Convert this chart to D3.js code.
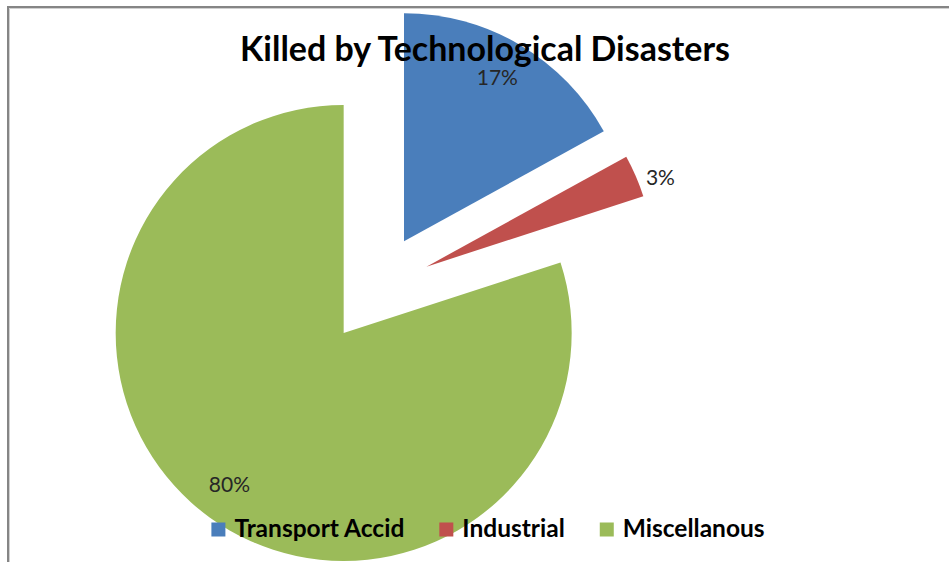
<!DOCTYPE html>
<html>
<head>
<meta charset="utf-8">
<script src="https://cdn.jsdelivr.net/npm/d3@7/dist/d3.min.js"></script>
<style>
  html, body { margin: 0; padding: 0; background: #ffffff; }
  svg { display: block; }
  text { font-family: "Lato", "Open Sans", "DejaVu Sans", sans-serif; }
</style>
</head>
<body>
<svg id="chart" width="949" height="562"></svg>
<script>
// ---- data ----
const title = "Killed by Technological Disasters";
const categories = ["Transport Accid", "Industrial", "Miscellanous"];
const values = [17, 3, 80];
const percentLabels = ["17%", "3%", "80%"];
const colors = ["#4A7EBB", "#C0504D", "#9BBB59"];

// ---- layout ----
const W = 949, H = 562;
const cx = 376, cy = 288.5, R = 228, explode = 55;

const svg = d3.select("#chart");

// frame
svg.append("path")
  .attr("d", `M8,${H} V7 H${W}`)
  .attr("fill", "none")
  .attr("stroke", "#858585")
  .attr("stroke-width", 2);
svg.append("path")
  .attr("d", `M9.5,${H} V8.5 H${W}`)
  .attr("fill", "none")
  .attr("stroke", "#d0d0d0")
  .attr("stroke-width", 1);

const total = d3.sum(values);
const pie = d3.pie().sort(null).value(d => d).startAngle(0).endAngle(2 * Math.PI);
const arcs = pie(values);
const arc = d3.arc().innerRadius(0).outerRadius(R);

const g = svg.append("g").attr("transform", `translate(${cx},${cy})`);

function offset(d, dist) {
  const a = (d.startAngle + d.endAngle) / 2;
  return [Math.sin(a) * dist, -Math.cos(a) * dist];
}

g.selectAll("path.slice")
  .data(arcs)
  .join("path")
  .attr("class", "slice")
  .attr("d", arc)
  .attr("fill", (d, i) => colors[i])
  .attr("transform", d => { const o = offset(d, explode); return `translate(${o[0]},${o[1]})`; });

// title (drawn after slices so it overlaps the blue slice)
const t = svg.append("text")
  .attr("x", 485).attr("y", 61)
  .attr("text-anchor", "middle")
  .attr("font-weight", "bold")
  .attr("font-size", 30)
  .attr("fill", "#000")
  .text(title);
const tw = t.node().getComputedTextLength();
t.attr("font-size", 30 * 490 / tw);

// data labels
const lblG = svg.append("g").attr("transform", `translate(${cx},${cy})`);
lblG.selectAll("text")
  .data(arcs)
  .join("text")
  .attr("font-size", 21)
  .attr("fill", "#262626")
  .text((d, i) => percentLabels[i])
  .each(function (d) {
    const share = d.value / total;
    const e = offset(d, explode);
    const sel = d3.select(this);
    if (share < 0.05) {
      const p = offset(d, R + 10);
      sel.attr("x", e[0] + p[0] + 1).attr("y", e[1] + p[1]).attr("dy", "0.6em")
        .attr("text-anchor", "start");
    } else {
      const p = offset(d, R * 0.83);
      sel.attr("x", e[0] + p[0] - 3).attr("y", e[1] + p[1]).attr("dy", "0.3em")
        .attr("text-anchor", "middle");
    }
  });

// legend
const leg = svg.append("g");
const items = leg.selectAll("g")
  .data(categories)
  .join("g");
items.append("rect")
  .attr("y", -0.5)
  .attr("width", 14).attr("height", 14)
  .attr("fill", (d, i) => colors[i]);
const lt = items.append("text")
  .attr("font-weight", "bold")
  .attr("font-size", 20)
  .attr("fill", "#000")
  .text(d => d);
const w0 = lt.filter((d, i) => i === 0).node().getComputedTextLength();
const legFs = 20 * 170 / w0;
lt.attr("font-size", legFs);
let xPos = 0;
const positions = [];
lt.each(function (d, i) {
  const w = this.getComputedTextLength();
  positions.push(xPos);
  xPos += 14 + 9 + w + 35;
});
const legWidth = xPos - 35;
const legX = 488 - legWidth / 2;
items.attr("transform", (d, i) => `translate(${legX + positions[i]},523)`);
lt.attr("x", 23).attr("y", 14);
</script>
</body>
</html>
